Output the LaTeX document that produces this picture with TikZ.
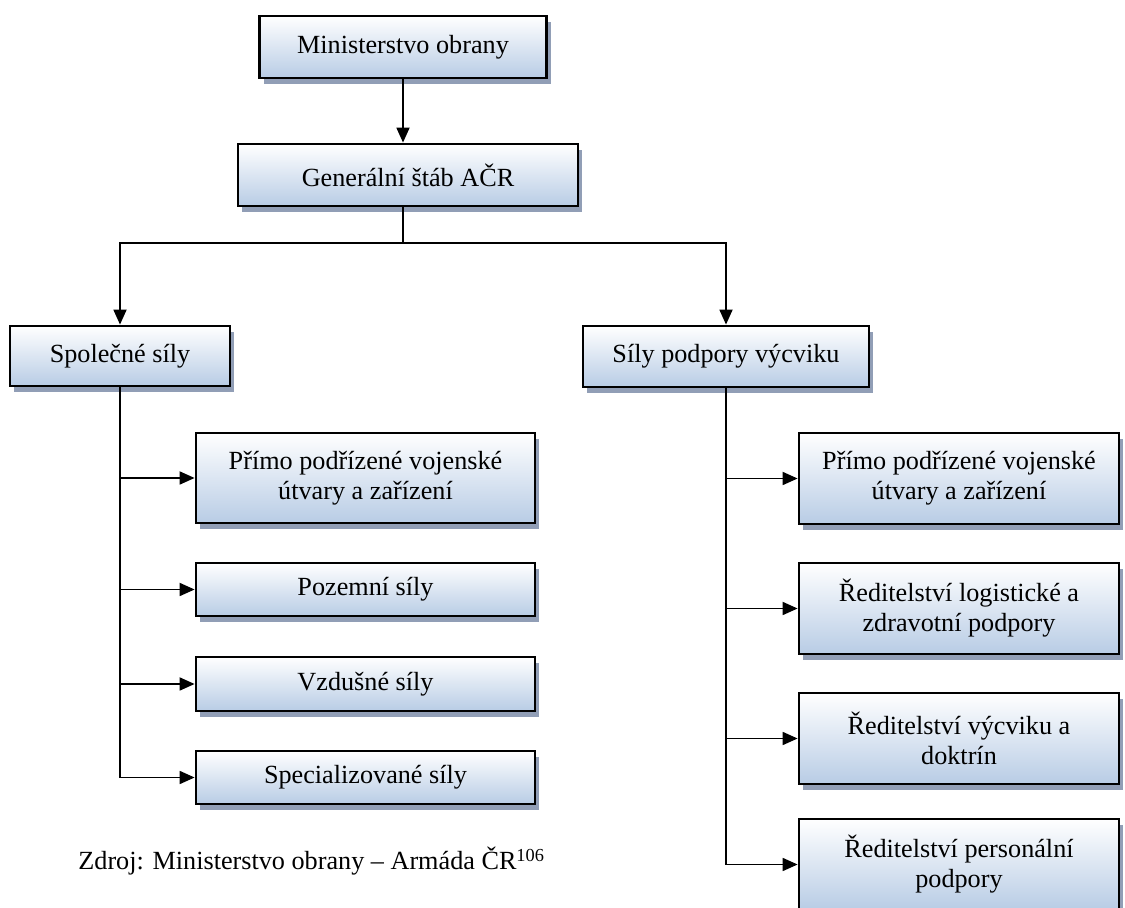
\documentclass[tikz,border=0pt]{standalone}
\usepackage{fontspec}
\setmainfont{Liberation Serif}
\usetikzlibrary{arrows.meta,shadows}
\definecolor{boxblue}{RGB}{184,204,229}
\definecolor{shadowc}{RGB}{145,158,182}
\tikzset{
  orgbox/.style={draw=black, line width=1.4pt, top color=white, bottom color=boxblue,
    drop shadow={shadow xshift=2pt, shadow yshift=-3pt, fill=shadowc, opacity=1},
    align=center, font=\fontsize{13.1}{15}\selectfont, inner sep=0pt},
  conn/.style={line width=0.9pt, -{Triangle[length=7.5pt,width=6.5pt]}},
  plainline/.style={line width=0.9pt}
}
\begin{document}
\begin{tikzpicture}[x=0.5pt,y=-0.5pt]
\useasboundingbox (0,0) rectangle (1125,908);
% top level
\node[orgbox, minimum width=143.5pt, minimum height=31pt] (m) at (403,47) {Ministerstvo obrany};
\node[orgbox, minimum width=170pt, minimum height=31pt] (g) at (408,175) {Generální štáb AČR};
\node[orgbox, minimum width=110pt, minimum height=30pt] (spol) at (120,356) {Společné síly};
\node[orgbox, minimum width=143pt, minimum height=30.5pt] (sily) at (726,356.5) {Síly podpory výcviku};
% left children
\node[orgbox, minimum width=169.5pt, minimum height=45pt] (c1) at (365.5,478) {Přímo podřízené vojenské\\útvary a zařízení};
\node[orgbox, minimum width=169.5pt, minimum height=26.5pt] (c2) at (365.5,589.5) {Pozemní síly};
\node[orgbox, minimum width=169.5pt, minimum height=27pt] (c3) at (365.5,684) {Vzdušné síly};
\node[orgbox, minimum width=169.5pt, minimum height=26.5pt] (c4) at (365.5,777.5) {Specializované síly};
% right children
\node[orgbox, minimum width=160pt, minimum height=45.5pt] (r1) at (959,478.5) {Přímo podřízené vojenské\\útvary a zařízení};
\node[orgbox, minimum width=160pt, minimum height=45.5pt] (r2) at (959,608.5) {Ředitelství logistické a\\zdravotní podpory};
\node[orgbox, minimum width=160pt, minimum height=45.5pt] (r3) at (959,738.5) {Ředitelství výcviku a\\doktrín};
\node[orgbox, minimum width=160pt, minimum height=45.5pt] (r4) at (959,864.5) {Ředitelství personální\\podpory};
% caption
\node[anchor=base west, inner sep=0pt, font=\fontsize{13.1}{15}\selectfont] (src) at (78,870)
  {Zdroj: Ministerstvo obrany – Armáda ČR\textsuperscript{106}};
% connectors
\coordinate (j) at (403,243);
\draw[conn] (m.south) -- (m.south |- g.north);
\draw[plainline] (j |- g.south) -- (j);
\draw[conn] (j) -| (spol.north);
\draw[conn] (j) -| (sily.north);
\foreach \c in {c1,c2,c3,c4} \draw[conn] (spol.south) |- (\c.west);
\foreach \c in {r1,r2,r3,r4} \draw[conn] (sily.south) |- (\c.west);
\end{tikzpicture}
\end{document}
